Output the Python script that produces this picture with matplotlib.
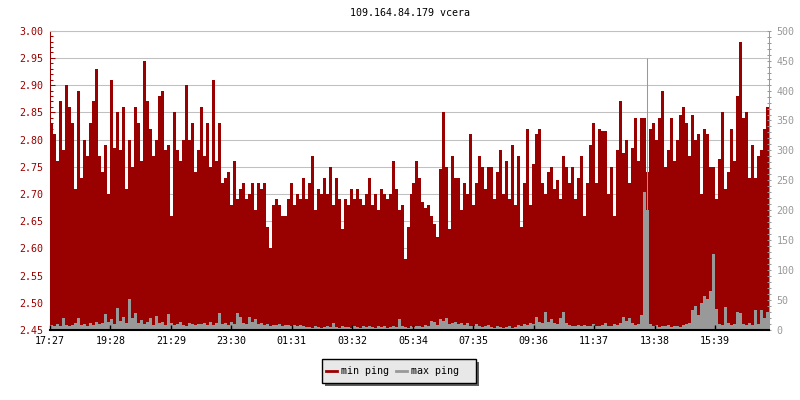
import numpy as np
import matplotlib.pyplot as plt
from matplotlib.lines import Line2D
from matplotlib.patches import Rectangle
from matplotlib.ticker import MultipleLocator, FormatStrFormatter

plt.rcParams['font.family'] = ['DejaVu Sans Mono']

RED = '#990000'
GRAY = '#999999'
GRID = '#c0c0c0'

title = "109.164.84.179 vcera"
start_label = "17:27"
tick_labels = ["17:27", "19:28", "21:29", "23:30", "01:31", "03:32",
               "05:34", "07:35", "09:36", "11:37", "13:38", "15:39"]
step_min = 6  # one sample every 6 minutes

# min ping (left axis, ms)
min_ping = [
    2.83, 2.81, 2.76, 2.87, 2.78, 2.90, 2.86, 2.83, 2.71, 2.89,
    2.73, 2.80, 2.77, 2.83, 2.87, 2.93, 2.77, 2.74, 2.79, 2.70,
    2.91, 2.785, 2.85, 2.78, 2.86, 2.71, 2.80, 2.75, 2.86, 2.83,
    2.76, 2.945, 2.87, 2.82, 2.77, 2.80, 2.88, 2.89, 2.78, 2.79,
    2.66, 2.85, 2.78, 2.76, 2.80, 2.90, 2.80, 2.83, 2.74, 2.78,
    2.86, 2.77, 2.83, 2.75, 2.91, 2.76, 2.83, 2.72, 2.73, 2.74,
    2.68, 2.76, 2.69, 2.71, 2.72, 2.69, 2.70, 2.72, 2.67, 2.72,
    2.71, 2.72, 2.64, 2.60, 2.68, 2.69, 2.68, 2.66, 2.66, 2.69,
    2.72, 2.68, 2.70, 2.69, 2.73, 2.69, 2.72, 2.77, 2.67, 2.71,
    2.70, 2.73, 2.70, 2.75, 2.68, 2.73, 2.69, 2.635, 2.69,
    2.68, 2.71, 2.69, 2.71, 2.69, 2.68, 2.70, 2.73, 2.68, 2.70,
    2.67, 2.71, 2.70, 2.69, 2.70, 2.76, 2.71, 2.67, 2.68, 2.58,
    2.64, 2.70, 2.72, 2.76, 2.73, 2.685, 2.675, 2.68, 2.66, 2.645,
    2.62, 2.745, 2.85, 2.75, 2.635, 2.77, 2.73, 2.73, 2.67, 2.72,
    2.70, 2.81, 2.68, 2.72, 2.77, 2.75, 2.71, 2.75,
    2.75, 2.69, 2.74, 2.78, 2.70, 2.76, 2.69, 2.79, 2.68, 2.77,
    2.64, 2.72, 2.82, 2.68, 2.755, 2.81, 2.82, 2.72, 2.70, 2.74,
    2.75, 2.71, 2.725, 2.69, 2.77, 2.75, 2.72, 2.75, 2.69, 2.73,
    2.77, 2.66, 2.72, 2.79, 2.83, 2.72, 2.82, 2.815, 2.815, 2.70,
    2.75, 2.66, 2.78, 2.87, 2.775, 2.80, 2.72, 2.785,
    2.84, 2.76, 2.84, 2.84, 2.74, 2.82, 2.83, 2.80, 2.84, 2.89,
    2.75, 2.78, 2.84, 2.76, 2.80, 2.845, 2.86, 2.83, 2.77, 2.845,
    2.80, 2.81, 2.70, 2.82, 2.81, 2.75, 2.75, 2.69, 2.765, 2.85,
    2.71, 2.74, 2.82, 2.76, 2.88, 2.98, 2.84, 2.85, 2.73, 2.79,
    2.73, 2.77, 2.78, 2.82, 2.86,
]

# max ping (right axis, ms)
max_ping = [
    8, 6, 10, 7, 20, 9, 6, 8, 11, 20,
    8, 10, 7, 12, 9, 14, 10, 12, 26, 14,
    18, 10, 37, 15, 22, 12, 51, 20, 29, 12,
    16, 10, 14, 20, 9, 23, 11, 14, 9, 26,
    12, 8, 10, 14, 9, 7, 12, 10, 8, 10,
    10, 12, 8, 14, 9, 11, 28, 10, 12, 8,
    14, 10, 28, 22, 12, 10, 22, 14, 18, 10,
    12, 8, 10, 7, 9, 8, 10, 7, 8, 9,
    6, 8, 7, 9, 6, 5, 5, 4, 6, 5,
    4, 5, 6, 5, 12, 5, 4, 6, 5,
    5, 4, 6, 5, 4, 6, 5, 7, 5, 4,
    6, 5, 6, 4, 5, 7, 5, 18, 6, 5,
    4, 6, 5, 7, 6, 5, 8, 6, 15, 14,
    8, 18, 15, 20, 10, 12, 14, 10, 12, 8,
    12, 6, 7, 10, 6, 5, 6, 8,
    5, 4, 6, 5, 4, 5, 6, 4, 5, 8,
    6, 10, 9, 12, 10, 22, 14, 12, 30, 14,
    18, 12, 10, 20, 30, 12, 8, 7, 6, 8,
    6, 9, 7, 6, 10, 7, 6, 8, 12, 7,
    6, 10, 8, 12, 22, 15, 20, 12,
    8, 10, 25, 230, 200, 10, 6, 8, 5, 7,
    6, 8, 5, 6, 7, 5, 8, 10, 12, 33,
    40, 25, 45, 57, 52, 65, 127, 35, 10, 8,
    38, 12, 8, 10, 30, 28, 10, 8, 12, 8,
    33, 10, 33, 20, 30,
]

# single short max ping burst (minutes after start, ms)
spike_min = [1196]
spike_val = [455]


def to_minutes(label, start=start_label):
    h, m = map(int, label.split(":"))
    h0, m0 = map(int, start.split(":"))
    return ((h * 60 + m) - (h0 * 60 + m0)) % 1440


edges = np.arange(len(min_ping) + 1) * step_min

fig = plt.figure(figsize=(8, 4), dpi=100)
fig.patch.set_facecolor('white')
ax = fig.add_axes([50 / 800, 70 / 400, 719 / 800, 299.3 / 400])

ax.stairs(min_ping, edges, baseline=2.45, fill=True, color=RED, lw=0)
ax.set_xlim(0, edges[-1])
ax.set_ylim(2.45, 3.00)
ax.yaxis.set_major_locator(MultipleLocator(0.05))
ax.yaxis.set_minor_locator(MultipleLocator(0.01))
ax.yaxis.set_major_formatter(FormatStrFormatter('%.2f'))
ax.grid(axis='y', which='major', color=GRID, lw=0.75)
ax.set_axisbelow(True)
ax.tick_params(axis='y', which='major', direction='in', length=3.6, width=0.75,
               colors=RED, labelsize=7.2, pad=5)
ax.tick_params(axis='y', which='minor', direction='in', length=2.2, width=0.75, colors=RED)
ax.set_xticks([to_minutes(l) for l in tick_labels])
ax.set_xticklabels(tick_labels)
ax.tick_params(axis='x', bottom=False, labelbottom=False)
ax.spines['left'].set_color(RED)
ax.spines['left'].set_linewidth(0.75)
ax.spines['top'].set_color(GRID)
ax.spines['top'].set_linewidth(0.75)
ax.spines['right'].set_visible(False)
ax.spines['bottom'].set_visible(False)

ax2 = ax.twinx()
ax2.stairs(max_ping, edges, baseline=0, fill=True, color=GRAY, lw=0)
ax2.vlines(spike_min, 0, spike_val, color=GRAY, lw=0.75)
ax2.set_ylim(0, 500)
ax2.yaxis.set_major_locator(MultipleLocator(50))
ax2.yaxis.set_minor_locator(MultipleLocator(10))
ax2.tick_params(axis='y', which='major', direction='inout', length=3.5, width=0.75,
                colors=GRAY, labelsize=7.2, pad=3.5)
ax2.tick_params(axis='y', which='minor', direction='inout', length=2.5, width=0.75, colors=GRAY)
ax2.xaxis.set_visible(True)
ax2.tick_params(axis='x', which='both', bottom=True, labelbottom=True, top=False,
                direction='in', length=3.5, width=1, color='black', labelsize=7.2, pad=4)
ax2.spines['right'].set_color(GRAY)
ax2.spines['right'].set_linewidth(0.75)
ax2.spines['bottom'].set_color('black')
ax2.spines['bottom'].set_linewidth(1.5)
ax2.spines['left'].set_visible(False)
ax2.spines['top'].set_visible(False)

fig.text(409.5 / 800, 1 - 13.5 / 400, title, ha='center', va='center', fontsize=7.2)

# legend box with drop shadow
fig.patches.append(Rectangle((325 / 800, 14 / 400), 154 / 800, 24 / 400,
                             transform=fig.transFigure, facecolor='#5e5e5e',
                             edgecolor='none', zorder=1))
fig.patches.append(Rectangle((322 / 800, 17 / 400), 154 / 800, 24 / 400,
                             transform=fig.transFigure, facecolor='#e8e8e8',
                             edgecolor='black', lw=1, zorder=2))
handles = [Line2D([], [], color=RED, lw=2), Line2D([], [], color=GRAY, lw=2)]
leg = fig.legend(handles, ['min ping', 'max ping'], loc='center left',
                 bbox_to_anchor=(326 / 800, 29 / 400), ncol=2, frameon=False,
                 fontsize=7.2, handlelength=1.1, handletextpad=0.4,
                 columnspacing=0.7, borderpad=0, borderaxespad=0)
leg.set_zorder(3)

fig.savefig('out.png', dpi=100)
